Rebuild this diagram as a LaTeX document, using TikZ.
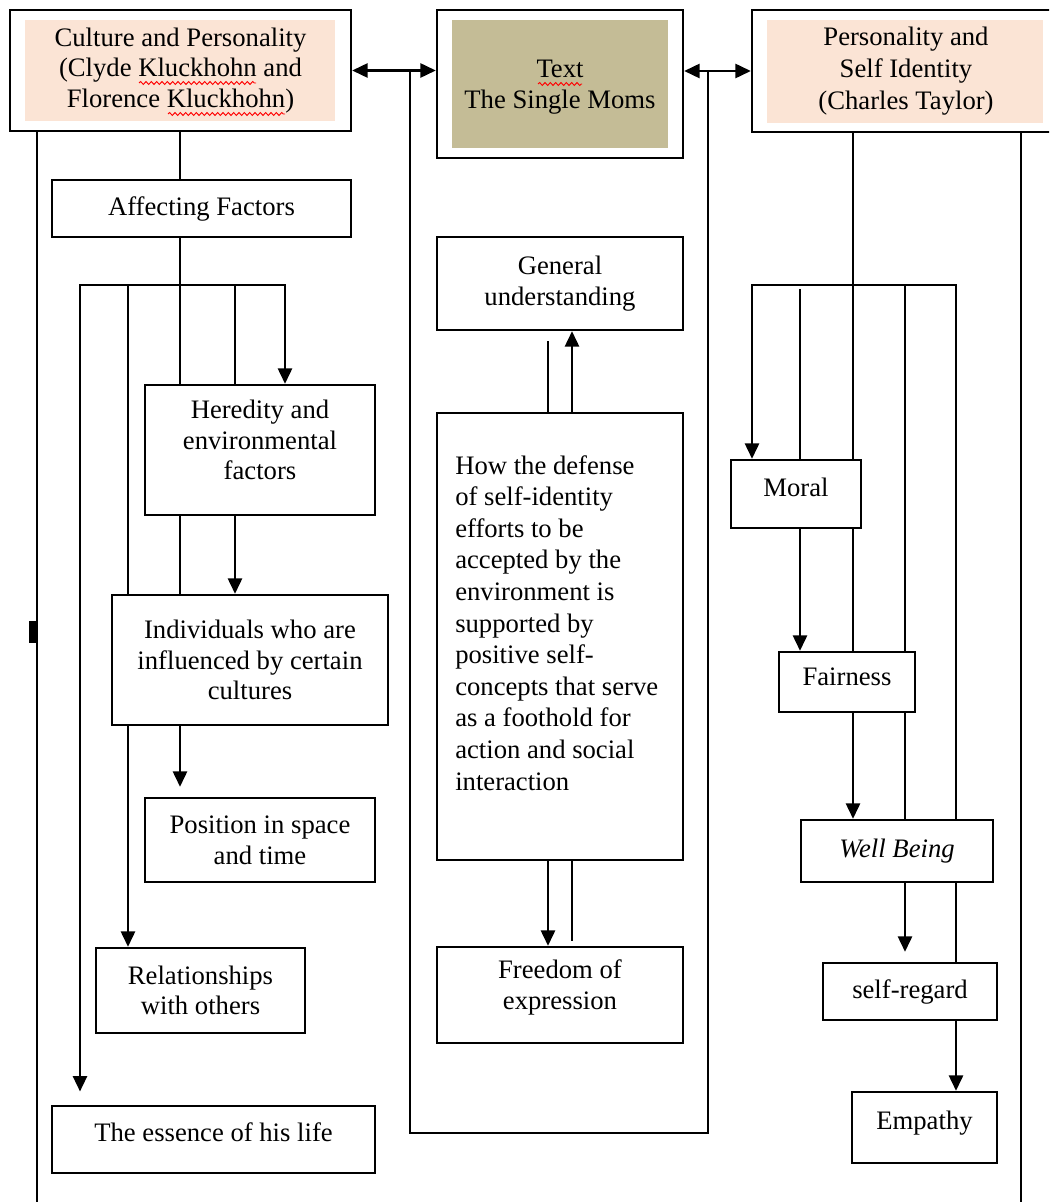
\documentclass[tikz,border=0pt]{standalone}
\usepackage{fontspec}
\setmainfont{Liberation Serif}
\usetikzlibrary{arrows.meta,decorations.pathmorphing}
\definecolor{peachfill}{HTML}{FBE4D5}
\definecolor{tanfill}{HTML}{C4BC96}
\newcommand\zb[2]{\raisebox{#1}[0pt][0pt]{#2}}
\newcommand\tb[1]{\zb{0pt}{\begin{tabular}{@{}c@{}}#1\end{tabular}}}
\begin{document}
\begin{tikzpicture}[x=0.75pt,y=-0.75pt,
  fnt/.style={font=\fontsize{20}{23}\selectfont},
  bx/.style={draw, line width=1.8pt, inner sep=0pt, align=center, fnt},
  ln/.style={line width=1.8pt, line cap=rect},
  ar/.style={ln, -{Triangle[length=11.5pt,width=10.5pt]}},
  dar/.style={ln, {Triangle[length=11.5pt,width=10.5pt]}-{Triangle[length=11.5pt,width=10.5pt]}},
  squig/.style={red, line width=0.7pt, decorate, decoration={snake, amplitude=1.1pt, segment length=4pt}}
]
\useasboundingbox (0,0) rectangle (1049,1202);
\clip (0,0) rectangle (1049,1202);
\fill[white] (0,0) rectangle (1049,1202);

% column coordinates
\foreach \c in {37,80,128,180,235,285,410,548,572,708,752,800,853,905,956,1021}
  {\coordinate (x\c) at (\c,0);}

% fills of title boxes
\fill[peachfill] (25,20) rectangle (335,121);
\fill[tanfill] (452,20) rectangle (668,148);
\fill[peachfill] (767,20) rectangle (1043,123);

% title boxes
\node[bx, minimum width=255.75pt, minimum height=90.75pt] (cp) at (180.5,70.5)
  {Culture and Personality\\(Clyde Kluckhohn and\\Florence Kluckhohn)};
\node[bx, minimum width=184.5pt, minimum height=111pt] (tx) at (560,84)
  {\zb{-7.5pt}{\begin{tabular}{@{}c@{}}Text\\The Single Moms\end{tabular}}};
\node[bx, minimum width=231pt, minimum height=91.5pt, font=\fontsize{20}{24}\selectfont] (ps) at (906,71)
  {Personality and\\Self Identity\\(Charles Taylor)};
% spelling-check wavy underlines
\draw[squig] (139,83) -- (256,83);
\draw[squig] (168,114) -- (285,114);
\draw[squig] (538,84) -- (582,84);

% left column
\node[bx, minimum width=224.25pt, minimum height=42.75pt] (af) at (201.5,208.5) {Affecting Factors};
\node[bx, minimum width=172.5pt, minimum height=97.5pt] (her) at (260,450)
  {\tb{Heredity and\\environmental\\factors}};
\node[bx, minimum width=207pt, minimum height=97.5pt] (ind) at (250,660)
  {Individuals who are\\influenced by certain\\cultures};
\node[bx, minimum width=172.5pt, minimum height=63pt] (pos) at (260,840)
  {Position in space\\and time};
\node[bx, minimum width=156.75pt, minimum height=63.75pt] (rel) at (200.5,990.5)
  {Relationships\\with others};
\node[bx, minimum width=242.25pt, minimum height=50.25pt] (ess) at (213.5,1139.5)
  {\zb{-1.35pt}{The essence of his life}};

% middle column
\node[bx, minimum width=184.5pt, minimum height=69.75pt] (gu) at (560,283.5)
  {General\\understanding};
\node[bx, minimum width=184.5pt, minimum height=335.25pt] (how) at (560,636.5) {};
\node[anchor=north west, inner sep=0pt, align=left, font=\fontsize{20}{23.7}\selectfont] (howtxt) at (455,455)
  {How the defense\\of self-identity\\efforts to be\\accepted by the\\environment is\\supported by\\positive self-\\concepts that serve\\as a foothold for\\action and social\\interaction};
\node[bx, minimum width=184.5pt, minimum height=72pt] (fr) at (560,995)
  {\tb{Freedom of\\expression}};

% right column
\node[bx, minimum width=97.5pt, minimum height=51pt] (mor) at (796,494) {\zb{-2.1pt}{Moral}};
\node[bx, minimum width=102pt, minimum height=45pt] (fa) at (847,682) {\zb{-2.85pt}{Fairness}};
\node[bx, minimum width=144pt, minimum height=46.5pt] (wb) at (897,851) {\textit{Well Being}};
\node[bx, minimum width=130.5pt, minimum height=42.75pt] (sr) at (910,991.5) {self-regard};
\node[bx, minimum width=108.75pt, minimum height=53.25pt] (em) at (924.5,1127.5) {\zb{-1.8pt}{Empathy}};

% top double arrows and the loop round the middle column
\coordinate (jl) at (cp.east -| x410);
\coordinate (jr) at (ps.west -| x708);
\coordinate (lpb) at (410,1133);
\coordinate (rpb) at (708,1133);
\draw[dar] (cp.east) -- (cp.east -| tx.west);
\draw[dar] (ps.west -| tx.east) -- (ps.west);
\draw[ln] (jl) -- (lpb) -- (rpb) -- (jr);

% left connectors
\coordinate (botL) at (37,1215);
\coordinate (lb1) at (80,285);
\coordinate (lb5) at (285,285);
\draw[ln] (cp.south -| x37) -- (botL);
\draw[ln] (cp.south -| x180) -- (af.north -| x180);
\draw[ln] (af.south -| x180) -- (her.north -| x180);
\draw[dar, shorten >=10pt] (her.north -| x285) -- (lb5) -- (lb1) -- (ess.north -| x80);
\draw[ln] (lb1 -| x128) -- (ind.north -| x128);
\draw[ln] (lb1 -| x235) -- (her.north -| x235);
\draw[ln] (her.south -| x180) -- (ind.north -| x180);
\draw[ar] (her.south -| x235) -- (ind.north -| x235);
\draw[ar] (ind.south -| x128) -- (rel.north -| x128);
\draw[ar, shorten >=7.5pt] (ind.south -| x180) -- (pos.north -| x180);
\fill (29,621) rectangle (36,643);

% middle connectors
\coordinate (gm1) at (548,342);
\coordinate (fm2) at (572,940);
\draw[ln] (gm1) -- (how.north -| x548);
\draw[ar] (how.north -| x572) -- (gu.south -| x572);
\draw[ar] (how.south -| x548) -- (fr.north -| x548);
\draw[ln] (how.south -| x572) -- (fm2);

% right connectors
\coordinate (rb1) at (752,285);
\coordinate (rb5) at (956,285);
\coordinate (r800) at (800,290);
\coordinate (botR) at (1021,1215);
\draw[ln] (ps.south -| x853) -- (mor.north -| x853);
\draw[ln] (ps.south -| x1021) -- (botR);
\draw[ar] (wb.north -| x956) -- (rb5) -- (rb1) -- (mor.north -| x752);
\draw[ln] (r800) -- (mor.north -| x800);
\draw[ln] (rb1 -| x905) -- (fa.north -| x905);
\draw[ar] (mor.south -| x800) -- (fa.north -| x800);
\draw[ln] (mor.south -| x853) -- (fa.north -| x853);
\draw[ar] (fa.south -| x853) -- (wb.north -| x853);
\draw[ln] (fa.south -| x905) -- (wb.north -| x905);
\draw[ar, shorten >=7.5pt] (wb.south -| x905) -- (sr.north -| x905);
\draw[ln] (wb.south -| x956) -- (sr.north -| x956);
\draw[ar] (sr.south -| x956) -- (em.north -| x956);
\end{tikzpicture}
\end{document}
